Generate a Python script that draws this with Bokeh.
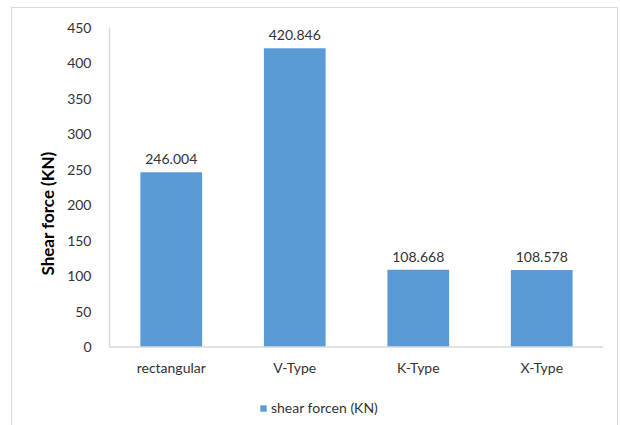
from bokeh.plotting import figure
from bokeh.models import (ColumnDataSource, Legend, LegendItem, Range1d,
                          FixedTicker, Title, Span)
from bokeh.core.properties import value
from bokeh.embed import file_html
from bokeh.resources import INLINE

# Shear force per bracing type
categories = ["rectangular", "V-Type", "K-Type", "X-Type"]
shear_force = [246.004, 420.846, 108.668, 108.578]
y_ticks = [0, 50, 100, 150, 200, 250, 300, 350, 400, 450]

FONT = "Lato"
TEXT = "#333333"
BAR = "#5B9BD5"
AXIS = "#D9D9D9"

src = ColumnDataSource(dict(
    cat=categories,
    val=shear_force,
    zero=[0] * len(categories),
    label=[f"{v:.3f}" for v in shear_force],
))

# the frame runs below zero so the category labels and the legend
# can live inside it
p = figure(
    x_range=categories,
    y_range=Range1d(-103.5, 450),
    frame_width=494, frame_height=393,
    min_border_left=97, min_border_right=14,
    min_border_top=19, min_border_bottom=5,
    x_axis_location=None,
    output_backend="svg", toolbar_location=None,
)
# chart area sits inset on the page with a light grey border
p.margin = (8, 0, 0, 12)
p.styles = {"outline": "1.5px solid #D9D9D9"}

p.outline_line_color = None
p.xgrid.grid_line_color = None
p.ygrid.grid_line_color = None
p.x_range.range_padding = 0

bars = p.vbar(x="cat", top="val", width=0.5, source=src,
              fill_color=BAR, line_color=None)

# value labels above the bars
p.text(x="cat", y="val", text="label", source=src,
       text_align="center", text_baseline="bottom", y_offset=-8,
       text_font=value(FONT), text_font_size="14px", text_color=TEXT)

# horizontal axis: baseline at zero plus category names
p.add_layout(Span(location=0, dimension="width",
                  line_color=AXIS, line_width=1.5))
p.text(x="cat", y="zero", text="cat", source=src,
       text_align="center", text_baseline="middle", y_offset=20,
       text_font=value(FONT), text_font_size="14px", text_color=TEXT)

# vertical axis
ax = p.yaxis[0]
ax.ticker = FixedTicker(ticks=y_ticks)
ax.bounds = (0, 450)
ax.axis_line_color = AXIS
ax.axis_line_width = 1.5
ax.major_tick_line_color = None
ax.minor_tick_line_color = None
ax.major_label_text_font = FONT
ax.major_label_text_font_size = "14px"
ax.major_label_text_color = TEXT
ax.major_label_standoff = 12

# vertical axis title
p.add_layout(Title(
    text="Shear force (KN)", align="left", offset=145,
    text_font=FONT, text_font_size="17px", text_font_style="bold",
    text_color="#000000", standoff=14,
), "left")

legend = Legend(
    items=[LegendItem(label="shear forcen (KN)", renderers=[bars])],
    orientation="horizontal", location=(150, 4),
    border_line_color=None, background_fill_alpha=0,
    label_text_font=FONT, label_text_font_size="14px", label_text_color=TEXT,
    glyph_width=8, glyph_height=8, label_height=14, label_standoff=4,
    padding=0, margin=0,
)
p.add_layout(legend, "center")

open("out.html", "w").write(file_html(p, INLINE))
